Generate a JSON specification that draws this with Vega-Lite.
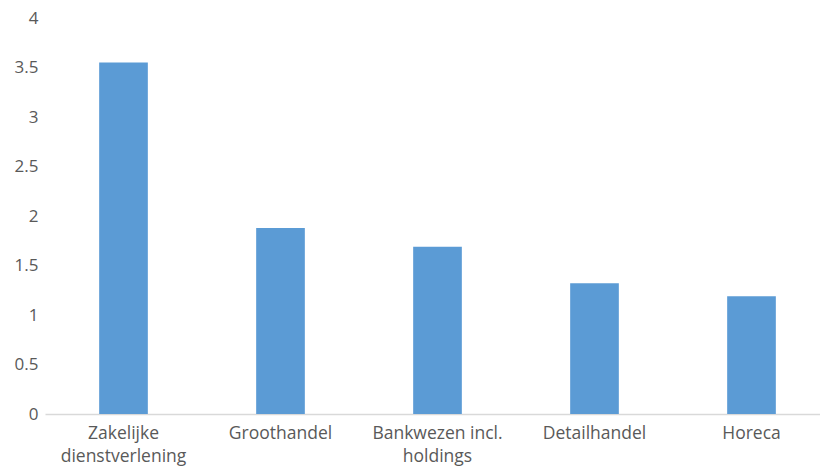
{
  "$schema": "https://vega.github.io/schema/vega-lite/v6.json",
  "autosize": {"type": "none"},
  "padding": {"left": 45, "top": 18, "right": 0, "bottom": 54},
  "width": 785,
  "height": 396,
  "background": "white",
  "config": {"view": {"stroke": null}},
  "data": {
    "values": [
      {"sector": "Zakelijke dienstverlening", "value": 3.55},
      {"sector": "Groothandel", "value": 1.88},
      {"sector": "Bankwezen incl. holdings", "value": 1.69},
      {"sector": "Detailhandel", "value": 1.32},
      {"sector": "Horeca", "value": 1.19}
    ]
  },
  "mark": {"type": "bar", "color": "#5b9bd5"},
  "encoding": {
    "x": {
      "field": "sector",
      "type": "nominal",
      "sort": null,
      "scale": {"paddingInner": 0.69, "paddingOuter": 0.345},
      "axis": {
        "title": null,
        "labelAngle": 0,
        "labelFont": "Open Sans",
        "labelFontSize": 17.5,
        "labelColor": "#595959",
        "labelPadding": 10,
        "labelLineHeight": 23,
        "labelExpr": "datum.label == 'Zakelijke dienstverlening' ? ['Zakelijke', 'dienstverlening'] : datum.label == 'Bankwezen incl. holdings' ? ['Bankwezen incl.', 'holdings'] : datum.label",
        "ticks": false,
        "domainColor": "#d9d9d9",
        "domainWidth": 1.5,
        "grid": false
      }
    },
    "y": {
      "field": "value",
      "type": "quantitative",
      "scale": {"domain": [0, 4]},
      "axis": {
        "title": null,
        "values": [0, 0.5, 1, 1.5, 2, 2.5, 3, 3.5, 4],
        "format": "~g",
        "labelFont": "Open Sans",
        "labelFontSize": 17,
        "labelColor": "#595959",
        "labelPadding": 7,
        "ticks": false,
        "domain": false,
        "grid": false
      }
    }
  }
}
